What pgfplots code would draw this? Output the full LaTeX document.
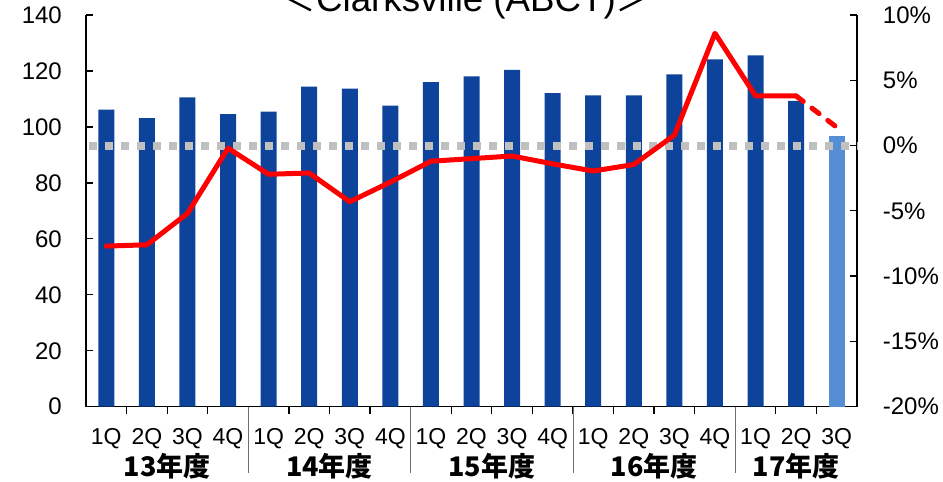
\documentclass[border=0pt]{standalone}
\usepackage{fontspec}
\setmainfont{Liberation Sans}
\newfontfamily\cjk{Noto Sans CJK JP}
\usepackage{pgfplots}
\pgfplotsset{compat=1.18}
\definecolor{barblue}{RGB}{14,67,155}
\definecolor{barlight}{RGB}{85,142,213}
\definecolor{dotgray}{RGB}{192,192,192}
\definecolor{sepgray}{RGB}{110,110,110}

\pgfplotsset{
  common/.style={
    width=771pt, height=391.7pt,
    scale only axis,
    xmin=0.5, xmax=19.5,
    /pgf/number format/assume math mode=true,
    tick align=inside,
    major tick length=7pt,
    minor tick length=7pt,
    axis line style={line width=1.3pt, black},
    every tick/.style={line width=1.3pt, black},
  },
}
\tikzset{yearlab/.style={anchor=base, inner sep=0pt, font=\cjk\bfseries\fontsize{27}{29}\selectfont}}

\begin{document}
\begin{tikzpicture}
% bars: left axis
\begin{axis}[
  common,
  axis x line*=bottom,
  axis y line*=left,
  ymin=0, ymax=140,
  ytick={0,20,...,140},
  yticklabel style={font=\fontsize{24}{26}\selectfont, anchor=east, inner sep=0pt, xshift=-24pt},
  xtick={1,...,19},
  xticklabels={1Q,2Q,3Q,4Q,1Q,2Q,3Q,4Q,1Q,2Q,3Q,4Q,1Q,2Q,3Q,4Q,1Q,2Q,3Q},
  minor x tick num=1,
  major x tick style={draw=none},
  xticklabel style={font=\fontsize{23}{25}\selectfont, anchor=base, inner sep=0pt, yshift=-30.5pt},
  ybar, bar width=16pt,
  clip=false,
]
\addplot[fill=barblue, draw=none, bar shift=0pt] coordinates {
  (1,106.2) (2,103.1) (3,110.6) (4,104.6)
  (5,105.5) (6,114.4) (7,113.7) (8,107.6)
  (9,116.0) (10,118.1) (11,120.4) (12,112.1)
  (13,111.3) (14,111.3) (15,118.8) (16,124.1)
  (17,125.6) (18,109.3)
};
\addplot[fill=barlight, draw=none, bar shift=0pt] coordinates {(19,96.7)};

% fiscal year groups
\pgfplotsinvokeforeach{4.5,8.5,12.5,16.5}{
  \draw[sepgray, line width=0.8pt] (axis cs:#1,0) -- ([yshift=-66.3pt]axis cs:#1,0);
}
\node[yearlab] at ([yshift=-69.3pt]axis cs:2.5,0) {13年度};
\node[yearlab] at ([yshift=-69.3pt]axis cs:6.5,0) {14年度};
\node[yearlab] at ([yshift=-69.3pt]axis cs:10.5,0) {15年度};
\node[yearlab] at ([yshift=-69.3pt]axis cs:14.5,0) {16年度};
\node[yearlab] at ([yshift=-69.3pt]axis cs:18,0) {17年度};
\end{axis}

% growth rate: right axis
\begin{axis}[
  common,
  axis x line=none,
  axis y line*=right,
  ymin=-20, ymax=10,
  ytick={-20,-15,...,10},
  yticklabels={-20\%,-15\%,-10\%,-5\%,0\%,5\%,10\%},
  yticklabel style={font=\fontsize{24}{26}\selectfont, anchor=west, inner sep=0pt, xshift=25.7pt},
  clip=false,
]
\addplot[dotgray, line width=8pt, dash pattern=on 8pt off 8pt, line cap=butt] coordinates {(0.57,0) (19.5,0)};
\addplot[red, line width=5pt, line join=round, line cap=round] coordinates {
  (1,-7.7) (2,-7.6) (3,-5.2) (4,-0.2)
  (5,-2.2) (6,-2.1) (7,-4.3) (8,-2.8)
  (9,-1.2) (10,-1.0) (11,-0.8) (12,-1.4)
  (13,-1.95) (14,-1.45) (15,0.8) (16,8.6)
  (17,3.8) (18,3.8)
};
\addplot[red, line width=5pt, line cap=round, dash pattern=on 9pt off 11pt] coordinates {(18,3.8) (19,1.4)};
\end{axis}

\node[overlay, anchor=base, inner sep=0pt, font=\fontsize{36.7}{40}\selectfont]
  at (380pt,394.7pt) {{\cjk ＜}Clarksville (ABCT){\cjk ＞}};

\pgfresetboundingbox
\useasboundingbox (-86pt,-75.3pt) rectangle (857pt,406.7pt);
\end{tikzpicture}
\end{document}
